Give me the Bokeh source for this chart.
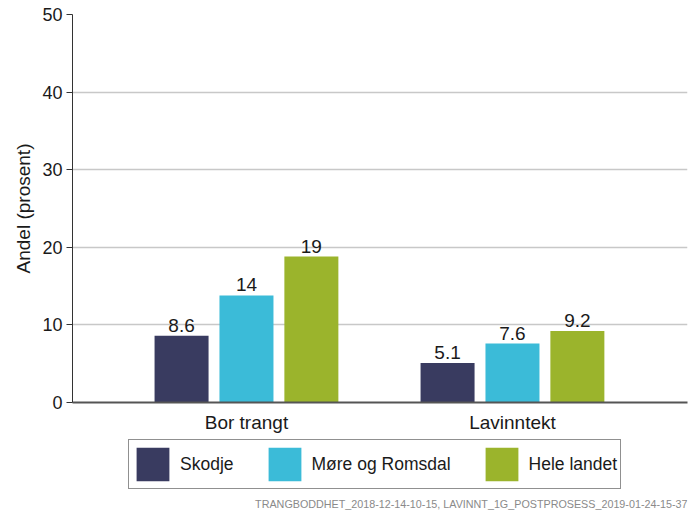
from bokeh.plotting import figure
from bokeh.layouts import column
from bokeh.models import (ColumnDataSource, Range1d, FixedTicker, Legend, LegendItem, Label)
from bokeh.core.properties import value
from bokeh.embed import file_html
from bokeh.resources import INLINE

categories = ["Bor trangt", "Lavinntekt"]
series = ["Skodje", "Møre og Romsdal", "Hele landet"]
skodje = [8.6, 5.1]
more = [13.8, 7.6]
hele = [18.8, 9.2]
skodje_lbl = ["8.6", "5.1"]
more_lbl = ["14", "7.6"]
hele_lbl = ["19", "9.2"]
colors = ["#393b60", "#3bbbd8", "#9bb42c"]
y_ticks = [0, 10, 20, 30, 40, 50]
footer = "TRANGBODDHET_2018-12-14-10-15, LAVINNT_1G_POSTPROSESS_2019-01-24-15-37"

FONT = "Liberation Sans"
W = 699
H_MAIN = 435
H_LEG = 76

p = figure(width=W, height=H_MAIN, output_backend="svg", toolbar_location=None,
           x_range=Range1d(0.346, 2.658), y_range=Range1d(0, 50),
           min_border_left=72, min_border_right=12, min_border_top=14, min_border_bottom=33)
p.outline_line_color = None

xs = [1, 2]
offsets = [-0.244, 0.0, 0.244]
bw = 0.203
sources = []
for vals, lbls, off, col in zip([skodje, more, hele], [skodje_lbl, more_lbl, hele_lbl], offsets, colors):
    src = ColumnDataSource(dict(x=[x + off for x in xs], top=vals, lbl=lbls))
    sources.append(src)
    p.vbar(x="x", top="top", width=bw, bottom=0, source=src, fill_color=col, line_color=None)
    p.text(x="x", y="top", text="lbl", source=src, text_align="center", text_baseline="bottom",
           y_offset=-4, text_font=value(FONT), text_font_size="19px", text_color="#1a1a1a")

# axes
p.xaxis.ticker = FixedTicker(ticks=xs)
p.xaxis.major_label_overrides = {1: categories[0], 2: categories[1]}
p.xaxis.major_tick_line_color = None
p.xaxis.minor_tick_line_color = None
p.xaxis.axis_line_color = "#555555"
p.xaxis.axis_line_width = 2
p.xaxis.major_label_text_font = FONT
p.xaxis.major_label_text_font_size = "19px"
p.xaxis.major_label_text_color = "#1a1a1a"
p.xaxis.major_label_standoff = 3

p.yaxis.ticker = FixedTicker(ticks=y_ticks)
p.yaxis.minor_tick_line_color = None
p.yaxis.major_tick_out = 6
p.yaxis.major_tick_in = 0
p.yaxis.major_tick_line_color = "#333333"
p.yaxis.axis_line_color = "#333333"
p.yaxis.major_label_text_font = FONT
p.yaxis.major_label_text_font_size = "18px"
p.yaxis.major_label_text_color = "#1a1a1a"
p.yaxis.major_label_standoff = 4
p.yaxis.axis_label = "Andel (prosent)"
p.yaxis.axis_label_text_font = FONT
p.yaxis.axis_label_text_font_size = "19px"
p.yaxis.axis_label_text_font_style = "normal"
p.yaxis.axis_label_text_color = "#1a1a1a"
p.yaxis.axis_label_standoff = 5

p.xgrid.grid_line_color = None
p.ygrid.ticker = FixedTicker(ticks=y_ticks)
p.ygrid.grid_line_color = "#c8c8c8"
p.ygrid.grid_line_width = 1.5

# legend strip (second figure; its frame is aligned with the main frame, x in page pixels)
q = figure(width=W, height=H_LEG, output_backend="svg", toolbar_location=None,
           x_range=Range1d(72, 687), y_range=Range1d(0, H_LEG),
           min_border_left=72, min_border_right=12, min_border_top=0, min_border_bottom=0)
q.outline_line_color = None
q.axis.visible = False
q.grid.visible = False
renderers = []
for src, col in zip(sources, colors):
    r = q.vbar(x="x", top="top", width=bw, source=src, fill_color=col, line_color=None)
    r.visible = False
    renderers.append(r)

legend = Legend(items=[LegendItem(label=s, renderers=[r]) for s, r in zip(series, renderers)],
                orientation="horizontal", location=(56, 22),
                glyph_width=41, glyph_height=42, label_standoff=7, spacing=30,
                padding=3, margin=0,
                label_text_font=FONT, label_text_font_size="17.5px", label_text_color="#1a1a1a",
                border_line_color="#222222", border_line_width=1.5,
                background_fill_alpha=1)
q.add_layout(legend, "center")

q.add_layout(Label(x=687, y=8, text=footer, text_align="right", text_baseline="middle",
                   text_font=FONT, text_font_size="10.75px", text_color="#8a8a8a"))

layout = column(p, q, spacing=0)
open("out.html", "w").write(file_html(layout, INLINE))
